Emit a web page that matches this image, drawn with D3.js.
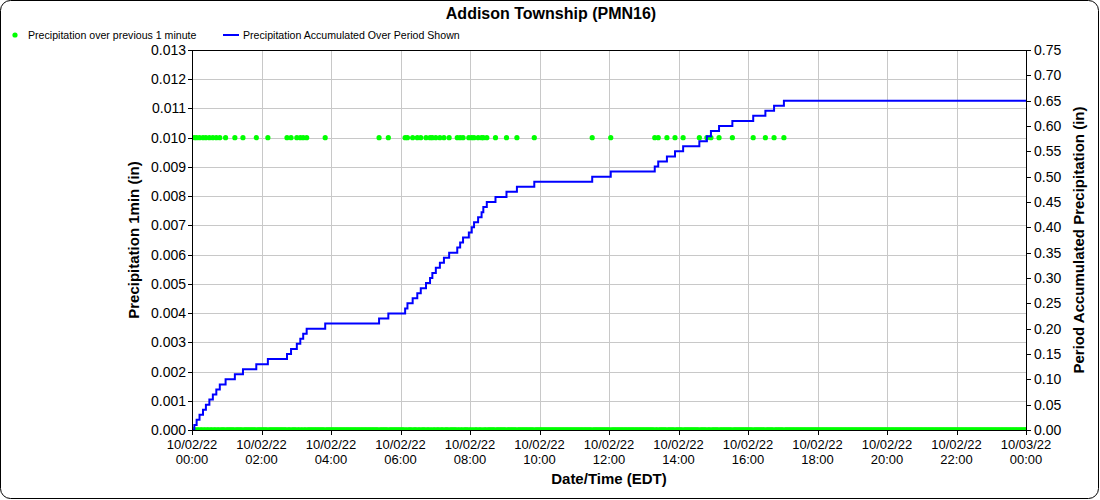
<!DOCTYPE html>
<html><head><meta charset="utf-8">
<script src="https://cdn.jsdelivr.net/npm/d3@7"></script>
<style>
body{margin:0;background:#fff;}
text{font-family:"Liberation Sans",Arial,sans-serif;}
</style></head>
<body><svg id="chart" width="1100" height="500"></svg>
<script>
// ---- data ----
const chartTitle = "Addison Township (PMN16)";
const periodStart = "2022-10-02T00:00";
const periodEnd = "2022-10-03T00:00";
// minutes after 00:00 at which 0.01 in fell in the previous minute (all other minutes: 0.00)
const rainMinutes = [4, 8, 13, 19, 24, 30, 36, 42, 48, 58, 74, 88, 111, 131, 164, 171, 181, 187, 192, 198, 230,
  323, 339, 368, 372, 381, 389, 395, 404, 411, 415, 421, 428, 435, 444, 458, 463, 468, 478, 483, 487, 494, 500, 503, 509,
  524, 543, 561, 591, 691, 723, 799, 805, 820, 834, 848, 876, 889, 896, 910, 933, 969, 990, 1005, 1022];
const rainAmount = 0.01;
const leftTicks = [0, 0.001, 0.002, 0.003, 0.004, 0.005, 0.006, 0.007, 0.008, 0.009, 0.010, 0.011, 0.012, 0.013];
const rightTicks = [0, 0.05, 0.10, 0.15, 0.20, 0.25, 0.30, 0.35, 0.40, 0.45, 0.50, 0.55, 0.60, 0.65, 0.70, 0.75];
const xTickHours = [0, 2, 4, 6, 8, 10, 12, 14, 16, 18, 20, 22, 24];
const legendLabels = ["Precipitation over previous 1 minute", "Precipitation Accumulated Over Period Shown"];
const axisTitles = {left: "Precipitation 1min (in)", right: "Period Accumulated Precipitation (in)", bottom: "Date/Time (EDT)"};

// ---- build series ----
const t0 = new Date(periodStart), t1 = new Date(periodEnd);
const totalMinutes = (t1 - t0) / 60000;
const rainSet = new Set(rainMinutes);
const oneMin = d3.range(0, totalMinutes + 1).map(m => ({t: new Date(+t0 + m * 60000), v: rainSet.has(m) ? rainAmount : 0}));
const cum = d3.cumsum(oneMin, d => d.v);
const accum = oneMin.map((d, i) => ({t: d.t, v: Math.round(cum[i] * 1000) / 1000}));

// ---- layout ----
const svg = d3.select("#chart");
const L = 192, R = 1026, T = 50, B = 430;
const x = d3.scaleTime().domain([t0, t1]).range([L, R]);
const yL = d3.scaleLinear().domain([0, 0.013]).range([B, T]);
const yR = d3.scaleLinear().domain([0, 0.75]).range([B, T]);

svg.append("rect").attr("x", 0.5).attr("y", 0.5).attr("width", 1098).attr("height", 498)
  .attr("rx", 10).attr("fill", "#fff").attr("stroke", "#000");

svg.append("text").attr("x", 551).attr("y", 19).attr("text-anchor", "middle")
  .attr("font-size", 16).attr("font-weight", "bold").text(chartTitle);

// legend
const lg = svg.append("g");
lg.append("circle").attr("cx", 15).attr("cy", 35).attr("r", 2.6).attr("fill", "#00ff00");
lg.append("text").attr("x", 28).attr("y", 39).attr("font-size", 10.6).text(legendLabels[0]);
lg.append("line").attr("x1", 223).attr("x2", 239).attr("y1", 35).attr("y2", 35).attr("stroke", "#0000ff").attr("stroke-width", 2);
lg.append("text").attr("x", 243).attr("y", 39).attr("font-size", 10.6).text(legendLabels[1]);

// grid
const xTicks = xTickHours.map(h => new Date(+t0 + h * 3600000));
const grid = svg.append("g").attr("stroke", "#c8c8c8").attr("stroke-width", 1);
grid.selectAll(".gy").data(leftTicks.slice(1, -1)).join("line")
  .attr("x1", L).attr("x2", R).attr("y1", d => Math.round(yL(d)) + 0.5).attr("y2", d => Math.round(yL(d)) + 0.5);
grid.selectAll(".gx").data(xTicks.slice(1, -1)).join("line")
  .attr("y1", T).attr("y2", B).attr("x1", d => Math.round(x(d)) + 0.5).attr("x2", d => Math.round(x(d)) + 0.5);

// clip
svg.append("clipPath").attr("id", "plotclip").append("rect").attr("x", L).attr("y", T).attr("width", R - L).attr("height", B - T + 0.5);
const plot = svg.append("g").attr("clip-path", "url(#plotclip)");

plot.append("g").selectAll("circle").data(oneMin).join("circle")
  .attr("cx", d => x(d.t)).attr("cy", d => yL(d.v)).attr("r", 2.6).attr("fill", "#00ff00");

const line = d3.line().x(d => x(d.t)).y(d => yR(d.v)).curve(d3.curveStepAfter);
plot.append("path").datum(accum).attr("d", line).attr("fill", "none")
  .attr("stroke", "#0000ff").attr("stroke-width", 2);

// frame
svg.append("rect").attr("x", L + 0.5).attr("y", T + 0.5).attr("width", R - L).attr("height", B - T)
  .attr("fill", "none").attr("stroke", "#000");

// axes
const fmtL = d3.format(".3f"), fmtR = d3.format(".2f");
const ax = svg.append("g");
ax.selectAll(".tl").data(leftTicks).join("line")
  .attr("x1", L - 4).attr("x2", L).attr("y1", d => Math.round(yL(d)) + 0.5).attr("y2", d => Math.round(yL(d)) + 0.5).attr("stroke", "#000");
ax.selectAll(".ll").data(leftTicks).join("text")
  .attr("x", L - 6).attr("y", d => yL(d) + 5).attr("text-anchor", "end").attr("font-size", 14).text(d => fmtL(d));
ax.selectAll(".tr").data(rightTicks).join("line")
  .attr("x1", R).attr("x2", R + 5).attr("y1", d => Math.round(yR(d)) + 0.5).attr("y2", d => Math.round(yR(d)) + 0.5).attr("stroke", "#000");
ax.selectAll(".rl").data(rightTicks).join("text")
  .attr("x", R + 8).attr("y", d => yR(d) + 5).attr("font-size", 14).text(d => fmtR(d));
ax.selectAll(".tx").data(xTicks).join("line")
  .attr("x1", d => Math.round(x(d)) + 0.5).attr("x2", d => Math.round(x(d)) + 0.5).attr("y1", B).attr("y2", B + 5).attr("stroke", "#000");
const fd = d3.timeFormat("%m/%d/%y"), ft = d3.timeFormat("%H:%M");
const xl = ax.selectAll(".xl").data(xTicks).join("text").attr("text-anchor", "middle").attr("font-size", 13);
xl.append("tspan").attr("x", d => x(d)).attr("y", 449).text(d => fd(d));
xl.append("tspan").attr("x", d => x(d)).attr("y", 464).text(d => ft(d));

// axis titles
svg.append("text").attr("transform", "translate(139,240) rotate(-90)").attr("text-anchor", "middle")
  .attr("font-size", 15).attr("font-weight", "bold").text(axisTitles.left);
svg.append("text").attr("transform", "translate(1084,240) rotate(-90)").attr("text-anchor", "middle")
  .attr("font-size", 15).attr("font-weight", "bold").text(axisTitles.right);
svg.append("text").attr("x", (L + R) / 2).attr("y", 484).attr("text-anchor", "middle")
  .attr("font-size", 15).attr("font-weight", "bold").text(axisTitles.bottom);
</script></body></html>
